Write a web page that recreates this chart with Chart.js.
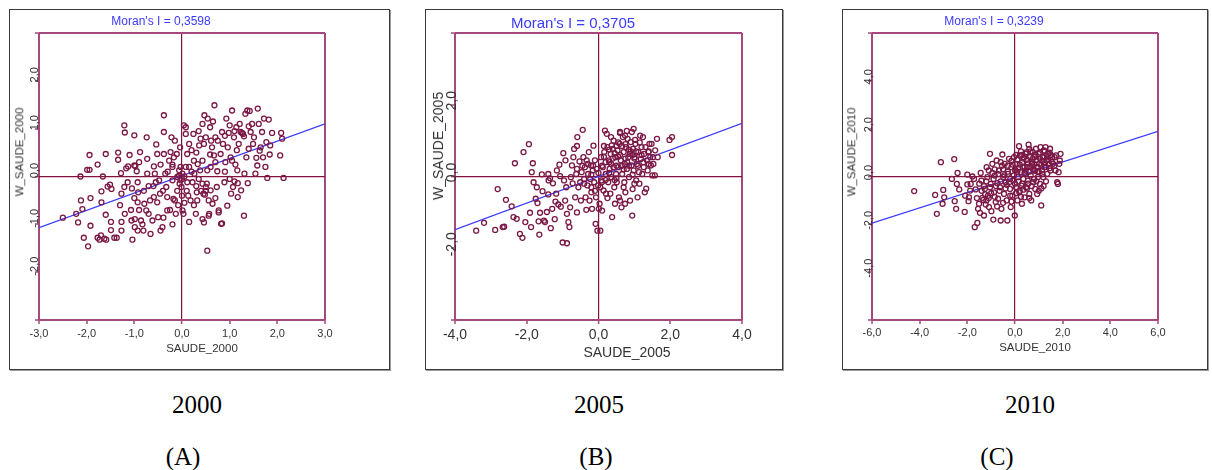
<!DOCTYPE html>
<html>
<head>
<meta charset="utf-8">
<script src="https://cdn.jsdelivr.net/npm/chart.js@4.4.0/dist/chart.umd.min.js"></script>
<style>
  body { margin: 0; background: #fff; width: 1212px; height: 470px; position: relative; overflow: hidden; font-family: "Liberation Sans", Arial, sans-serif; }
  .box { position: absolute; border: 1px solid #3a3a3a; box-shadow: 1px 1px 0 #9a9a9a; box-sizing: border-box; background: #fff; }
  canvas { position: absolute; }
  .lbl { position: absolute; white-space: nowrap; color: #333; transform: translate(-50%, -50%); line-height: 1; }
  .moran { color: #3a3aff; }
  .ylab { transform: translate(-50%, -50%) rotate(-90deg); }
  .cap { position: absolute; white-space: nowrap; font-family: "Liberation Serif", "Times New Roman", serif; font-size: 25px; color: #000; transform: translate(-50%, -50%); line-height: 1; }
</style>
</head>
<body>

<div class="box" style="left:9px;top:9px;width:381px;height:361px"></div>
<div class="box" style="left:425px;top:9px;width:358px;height:361px"></div>
<div class="box" style="left:842px;top:9px;width:366px;height:361px"></div>

<canvas id="chartA" width="381" height="361" style="left:9px;top:9px"></canvas>
<canvas id="chartB" width="358" height="361" style="left:425px;top:9px"></canvas>
<canvas id="chartC" width="366" height="361" style="left:842px;top:9px"></canvas>

<div class="lbl moran" style="left:161px;top:21px;font-size:12px">Moran's I = 0,3598</div>
<div class="lbl moran" style="left:573px;top:22px;font-size:15px">Moran's I = 0,3705</div>
<div class="lbl moran" style="left:994px;top:21px;font-size:12px">Moran's I = 0,3239</div>

<div class="lbl" style="left:202px;top:349px;font-size:11.5px">SAUDE_2000</div>
<div class="lbl" style="left:627px;top:352px;font-size:14px">SAUDE_2005</div>
<div class="lbl" style="left:1035px;top:348px;font-size:11.5px">SAUDE_2010</div>

<div class="lbl ylab" style="left:20px;top:152px;font-size:11.5px">W_SAUDE_2000</div>
<div class="lbl ylab" style="left:438px;top:146px;font-size:14px">W_SAUDE_2005</div>
<div class="lbl ylab" style="left:852px;top:152px;font-size:11.5px">W_SAUDE_2010</div>

<div class="cap" style="left:197px;top:404px">2000</div>
<div class="cap" style="left:599px;top:404px">2005</div>
<div class="cap" style="left:1030px;top:404px">2010</div>
<div class="cap" style="left:183px;top:456px">(A)</div>
<div class="cap" style="left:596px;top:456px">(B)</div>
<div class="cap" style="left:997px;top:456px">(C)</div>

<script>
// pontos [SAUDE, W_SAUDE]
var ptsA = [[-2.50,-0.86],[-2.22,-0.78],[-2.18,-0.96],[-2.12,-0.50],[-2.09,-0.68],[-2.13,0.00],[-2.06,-1.28],[-1.97,-1.46],[-1.92,-1.03],[-1.92,-0.45],[-1.94,0.45],[-1.99,0.14],[-1.94,0.14],[-1.77,0.25],[-1.66,0.00],[-1.69,-0.31],[-1.60,0.47],[-1.69,-0.54],[-1.77,-1.28],[-1.70,-1.23],[-1.63,-1.30],[-1.59,-1.32],[-1.73,-1.32],[-1.56,-0.21],[-1.51,-0.17],[-1.48,-0.26],[-1.49,-0.95],[-1.49,-1.12],[-1.42,-1.28],[-1.37,-1.28],[-1.34,0.50],[-1.34,0.35],[-1.28,0.07],[-1.27,-0.36],[-1.27,-0.95],[-1.27,-1.13],[-1.21,1.07],[-1.20,0.92],[-1.21,-0.22],[-1.20,-0.78],[-1.17,0.17],[-1.13,0.21],[-1.14,-0.12],[-1.07,-0.70],[-1.06,-0.92],[-1.04,-1.32],[-1.00,0.86],[-1.00,0.23],[-0.98,0.22],[-0.95,0.11],[-0.93,-0.12],[-0.92,-0.33],[-0.93,-0.54],[-0.99,-0.89],[-0.99,-1.06],[-0.93,-1.13],[-0.88,0.51],[-0.86,-0.92],[-0.83,-1.00],[-0.81,-1.13],[-0.79,-0.57],[-0.75,-0.71],[-0.74,0.82],[-0.73,0.37],[-0.73,0.06],[-0.70,-0.78],[-0.67,-0.50],[-0.66,-1.20],[-0.62,-0.92],[-0.59,0.21],[-0.59,-0.43],[-0.57,0.06],[-0.55,-0.12],[-0.54,0.67],[-0.52,0.47],[-0.52,-0.54],[-0.48,-0.08],[-0.46,-0.36],[-0.45,-1.13],[-0.41,-1.06],[-0.39,-0.86],[-0.38,1.28],[-0.38,0.93],[-0.38,0.47],[-0.35,0.06],[-0.33,-0.22],[-0.31,-0.43],[-0.31,-0.71],[-0.27,0.33],[-0.24,0.51],[-0.22,0.82],[-0.20,0.20],[-0.20,-0.08],[-0.18,-0.47],[-0.17,0.40],[-0.15,-0.50],[-0.13,-0.78],[-0.11,0.47],[-0.10,-0.01],[-0.06,0.02],[-0.04,0.61],[-0.03,0.20],[-0.03,-0.08],[-0.01,-0.22],[0.01,-0.71],[0.03,-0.78],[0.04,1.07],[0.08,0.89],[0.08,1.03],[0.11,0.47],[0.11,-0.12],[0.13,-0.40],[0.15,0.68],[0.15,0.20],[0.18,-0.50],[0.22,-0.12],[0.24,0.89],[0.25,0.33],[0.26,0.06],[0.29,-0.78],[0.31,-0.33],[0.32,-0.50],[0.33,0.26],[0.36,0.65],[0.38,0.13],[0.39,0.79],[0.43,1.10],[0.43,0.33],[0.43,-0.15],[0.45,-0.36],[0.46,0.68],[0.47,1.28],[0.50,0.82],[0.50,-0.22],[0.52,-0.15],[0.53,0.13],[0.54,1.21],[0.56,-0.50],[0.57,-0.78],[0.59,1.03],[0.59,0.46],[0.60,-0.29],[0.61,0.75],[0.63,0.61],[0.64,-0.57],[0.67,0.44],[0.68,1.49],[0.70,0.82],[0.73,-0.22],[0.74,0.11],[0.75,0.75],[0.77,-0.71],[0.81,0.47],[0.82,-0.99],[0.84,0.93],[0.86,0.68],[0.89,-0.12],[0.91,0.30],[0.93,1.21],[0.95,-0.61],[0.96,0.61],[0.98,0.91],[1.00,1.07],[1.02,0.40],[1.03,-0.36],[1.05,1.38],[1.05,0.33],[1.07,-0.22],[1.09,0.82],[1.10,0.95],[1.12,0.25],[1.14,1.03],[1.16,0.13],[1.17,-0.43],[1.17,-0.14],[1.19,0.68],[1.21,1.10],[1.23,0.93],[1.24,-0.29],[1.26,0.91],[1.28,0.89],[1.30,0.84],[1.30,-0.82],[1.31,0.06],[1.33,1.31],[1.35,0.40],[1.37,1.38],[1.38,-0.14],[1.40,0.58],[1.42,1.37],[1.44,0.93],[1.47,1.10],[1.49,0.68],[1.51,0.82],[1.54,0.06],[1.56,0.39],[1.58,0.23],[1.59,1.42],[1.61,1.10],[1.63,0.54],[1.65,0.61],[1.68,0.93],[1.70,0.40],[1.72,1.21],[1.75,0.20],[1.77,0.72],[1.79,-0.03],[1.82,1.19],[1.84,0.46],[1.85,0.65],[1.89,0.91],[2.06,0.44],[2.08,0.91],[2.10,0.79],[2.13,-0.03],[0.53,-1.55],[0.43,-0.89],[0.46,-0.96],[0.08,0.20],[0.01,0.06],[-0.06,0.13],[0.00,-0.05],[0.05,0.00],[-0.05,-0.15],[0.10,-0.30],[-0.10,-0.30],[0.00,-0.40],[0.05,-0.55],[-0.08,-0.60],[0.20,0.10],[-0.20,0.25],[0.30,0.50],[-0.30,0.10],[0.35,-0.05],[-0.40,-0.30],[0.40,-0.30],[0.60,0.20],[-0.60,-0.20],[0.70,0.30],[-0.80,-0.30],[0.90,0.10],[-0.90,0.30],[1.10,-0.10],[-1.00,-0.45],[0.25,-0.60],[-0.25,-0.70],[0.56,-0.82],[0.84,-0.98],[0.77,-0.75],[0.48,-0.38],[0.50,-0.30],[0.20,0.55],[0.35,0.95],[0.65,1.15],[0.90,0.85],[1.15,0.55],[1.40,1.05],[-0.15,0.75],[-0.45,0.25],[-0.70,-0.20],[-1.05,-0.25],[-1.30,-0.60],[-1.60,-0.80],[-0.50,-0.85],[0.30,-0.20],[0.70,-0.45],[1.00,-0.05],[-0.90,-0.70],[-1.10,0.45],[0.15,-0.95],[-0.20,-1.00]];

var ptsB = [[-3.41,-1.51],[-3.19,-1.29],[-2.88,-1.49],[-2.67,-1.41],[-2.63,-1.40],[-2.81,-0.35],[-2.58,-0.65],[-2.42,-0.83],[-2.37,-1.13],[-2.33,0.37],[-2.28,-1.18],[-2.19,-1.60],[-2.12,-1.71],[-2.09,0.68],[-2.04,-1.27],[-1.94,0.90],[-1.91,-1.01],[-1.88,-1.41],[-1.86,0.12],[-1.83,0.37],[-1.81,-0.16],[-1.75,-0.62],[-1.72,-0.30],[-1.70,-0.74],[-1.67,-1.25],[-1.65,-1.62],[-1.63,-1.01],[-1.58,0.06],[-1.56,-0.41],[-1.52,-1.23],[-1.49,-1.27],[-1.44,-0.99],[-1.40,0.07],[-1.39,-0.11],[-1.35,-0.05],[-1.33,-1.44],[-1.29,-0.90],[-1.27,-0.19],[-1.22,-1.19],[-1.18,-0.48],[-1.16,0.17],[-1.12,-0.78],[-1.09,0.33],[-1.07,0.01],[-1.05,-0.84],[-1.00,-1.84],[-0.98,0.65],[-0.96,-0.11],[-0.93,-0.67],[-0.92,0.45],[-0.88,-1.86],[-0.88,-1.04],[-0.84,-1.27],[-0.81,-1.41],[-0.79,-0.86],[-0.77,-0.02],[-0.74,0.31],[-0.72,-0.19],[-0.70,0.54],[-0.68,0.77],[-0.65,-0.58],[-0.62,0.07],[-0.60,0.21],[-0.59,1.10],[-0.56,-0.30],[-0.53,0.42],[-0.51,-0.16],[-0.49,-0.67],[-0.47,0.12],[-0.44,1.30],[-0.42,0.54],[-0.40,-0.07],[-0.38,0.26],[-0.36,-0.58],[-0.34,-0.93],[-0.33,0.45],[-0.31,-0.25],[-0.29,0.07],[-0.27,0.68],[-0.25,-0.67],[-0.23,-0.07],[-0.21,0.31],[-0.20,-0.44],[-0.18,-0.90],[-0.16,0.17],[-0.14,0.86],[-0.12,-0.16],[-0.10,0.45],[-0.08,-1.32],[-0.07,-0.58],[-0.05,0.21],[-0.03,-1.51],[-0.01,-0.25],[0.01,-0.90],[0.03,-0.76],[0.05,-1.51],[0.07,0.54],[0.08,-0.11],[0.10,-0.95],[0.12,0.26],[0.14,-0.39],[0.16,0.68],[0.18,1.28],[0.20,0.07],[0.21,-0.48],[0.23,1.19],[0.25,0.82],[0.27,-0.16],[0.29,0.45],[0.31,0.21],[0.33,-0.48],[0.34,0.63],[0.36,-0.02],[0.38,-1.13],[0.40,0.77],[0.42,0.26],[0.44,-0.30],[0.46,-0.76],[0.47,0.54],[0.49,0.07],[0.51,-0.16],[0.53,0.73],[0.55,0.26],[0.57,-0.58],[0.59,0.91],[0.60,1.24],[0.62,0.45],[0.64,-0.86],[0.66,0.07],[0.68,1.10],[0.70,0.68],[0.72,-0.16],[0.73,0.35],[0.75,-0.44],[0.77,0.82],[0.79,0.21],[0.81,1.05],[0.83,0.54],[0.85,-0.02],[0.87,0.63],[0.88,-0.67],[0.90,0.96],[0.92,0.31],[0.94,-1.09],[0.96,0.77],[0.98,0.17],[1.00,-0.20],[1.01,0.54],[1.03,0.91],[1.05,-0.11],[1.07,0.35],[1.09,-0.58],[1.11,0.68],[1.13,0.12],[1.14,-0.20],[1.16,1.14],[1.18,0.49],[1.20,0.82],[1.22,0.07],[1.24,1.10],[1.26,0.26],[1.27,0.63],[1.29,-0.44],[1.31,0.82],[1.33,-0.34],[1.35,0.45],[1.37,0.17],[1.39,0.68],[1.40,0.35],[1.42,0.91],[1.44,0.54],[1.46,0.31],[1.48,0.91],[1.50,0.03],[1.52,0.54],[1.53,0.35],[1.57,0.03],[1.58,0.73],[1.63,1.05],[1.65,0.54],[1.98,1.02],[2.05,1.10],[2.05,0.60],[0.98,1.33],[0.79,1.27],[0.60,1.21],[0.74,1.14],[1.02,1.02],[0.93,1.24],[0.42,1.00],[0.37,0.87],[0.74,-0.76],[0.60,-0.67],[0.10,0.30],[0.20,0.40],[0.30,0.10],[0.40,0.50],[0.50,0.30],[0.60,0.60],[0.70,0.20],[0.80,0.40],[0.90,0.70],[1.00,0.50],[1.10,0.30],[0.20,-0.10],[0.50,-0.05],[0.65,0.85],[0.85,0.75],[0.45,0.65],[0.15,0.55],[-0.20,0.05],[-0.30,0.35],[0.00,0.10],[1.20,0.60],[0.95,0.05],[0.55,0.95],[0.35,0.35],[0.75,0.50],[-0.10,-0.40],[0.05,-0.30],[0.25,-0.60],[-0.40,-0.20],[0.30,0.75],[0.15,0.85],[0.35,1.10],[0.50,0.85],[0.65,0.30],[0.85,0.30],[1.05,0.70],[1.25,0.40],[1.40,0.70],[0.45,-0.10],[0.70,-0.30],[0.95,-0.35],[-0.15,0.30],[-0.45,0.30],[-0.60,0.85],[-0.20,-0.30],[0.10,-0.15],[0.30,0.40],[0.55,0.55],[0.75,0.90],[0.95,0.60],[1.15,0.95],[-0.90,-0.30],[-1.20,-0.70],[-0.60,-1.00],[-1.40,-0.50]];

var ptsC = [[-4.23,-0.61],[-3.35,-0.77],[-3.28,-1.56],[-3.11,0.60],[-3.04,-1.14],[-3.01,-0.56],[-2.97,-0.87],[-2.65,-0.10],[-2.55,0.73],[-2.53,-1.03],[-2.47,-1.35],[-2.44,-0.31],[-2.41,0.15],[-2.34,-0.54],[-2.11,-1.48],[-2.09,-0.80],[-2.00,0.08],[-2.00,-0.33],[-1.95,-1.03],[-1.93,-0.87],[-1.88,-0.59],[-1.86,-0.31],[-1.79,0.00],[-1.72,-0.10],[-1.69,-2.12],[-1.65,-0.54],[-1.58,-1.94],[-1.55,-1.35],[-1.51,-1.14],[-1.47,-1.52],[-1.44,0.15],[-1.41,-0.17],[-1.37,-0.89],[-1.33,-0.98],[-1.30,-1.63],[-1.27,-0.52],[-1.23,-1.17],[-1.19,0.39],[-1.16,-0.03],[-1.13,-0.80],[-1.09,-1.28],[-1.05,0.95],[-1.02,-0.31],[-0.99,-1.45],[-0.95,0.53],[-0.91,-1.80],[-0.88,-0.66],[-0.85,0.04],[-0.81,-1.07],[-0.77,0.67],[-0.74,-0.28],[-0.71,-0.93],[-0.67,0.25],[-0.63,-0.45],[-0.60,-1.84],[-0.57,-1.35],[-0.53,0.92],[-0.49,-0.03],[-0.46,-0.73],[-0.43,0.53],[-0.39,-0.24],[-0.35,-1.00],[-0.32,-1.84],[-0.29,0.11],[-0.25,0.74],[-0.21,-0.52],[-0.18,-1.28],[-0.15,0.39],[-0.11,-0.80],[-0.07,-0.17],[-0.04,0.81],[-0.01,-1.63],[0.01,0.25],[0.04,-0.45],[0.07,0.53],[0.10,-1.00],[0.13,-0.03],[0.17,1.27],[0.18,-0.66],[0.21,0.88],[0.24,0.18],[0.27,-0.38],[0.29,-1.14],[0.32,0.39],[0.35,-0.10],[0.38,0.81],[0.40,-0.87],[0.43,0.11],[0.46,-0.45],[0.49,1.02],[0.52,0.39],[0.54,-0.17],[0.57,1.33],[0.60,-0.73],[0.63,0.81],[0.66,0.04],[0.68,-1.00],[0.71,0.53],[0.74,1.02],[0.77,-0.24],[0.80,0.25],[0.82,0.81],[0.85,-0.52],[0.88,1.16],[0.91,0.39],[0.93,-0.73],[0.96,-0.03],[0.99,0.95],[1.02,0.53],[1.05,-0.31],[1.07,1.23],[1.10,-1.21],[1.13,0.25],[1.16,0.81],[1.19,-0.03],[1.21,1.09],[1.24,0.39],[1.28,1.23],[1.33,0.67],[1.35,0.11],[1.38,0.95],[1.42,0.53],[1.47,1.16],[1.49,0.25],[1.56,0.81],[1.60,0.53],[1.66,0.81],[1.72,0.88],[1.77,-0.24],[1.80,-0.31],[1.83,0.18],[1.86,0.53],[1.88,0.67],[1.91,0.95],[-0.50,0.30],[-0.30,0.20],[-0.20,-0.10],[0.10,0.20],[0.20,0.50],[0.30,0.60],[0.40,0.40],[0.50,0.70],[0.60,0.20],[0.70,0.60],[0.80,0.50],[0.90,0.70],[1.00,0.20],[1.10,0.50],[1.20,0.80],[1.30,0.40],[1.40,0.70],[1.50,0.90],[0.30,-0.30],[0.50,-0.50],[0.70,-0.40],[0.90,-0.20],[1.10,-0.50],[1.30,-0.20],[-0.60,-0.20],[-0.80,-0.40],[-1.00,-0.70],[-1.20,-0.20],[-0.40,-0.50],[-0.20,-0.80],[0.00,-0.30],[0.10,0.70],[-0.10,0.50],[-0.70,0.10],[-0.90,-0.10],[0.45,0.95],[0.65,1.05],[0.85,0.90],[1.05,1.00],[1.25,1.05],[-1.30,-0.40],[-1.10,-0.90],[-0.50,-1.10],[0.20,-0.60],[0.60,-0.90],[0.40,0.15],[-0.05,0.05],[0.15,-0.20],[0.75,0.30],[0.95,0.40],[1.15,0.10],[1.45,0.35],[1.65,0.45],[-0.35,-0.35],[-0.60,0.60],[-0.85,0.30],[-1.40,-0.60],[-1.20,-1.00],[0.00,0.30],[0.30,0.90],[-0.30,0.45],[-0.15,0.65],[0.05,0.90],[0.25,1.05],[0.55,0.55],[0.75,0.75],[0.95,0.20],[1.15,0.65],[1.35,0.80],[1.55,0.60],[1.70,0.25],[0.35,-0.55],[0.55,-0.30],[0.80,-0.10],[1.00,-0.60],[1.20,-0.40],[-0.45,0.05],[-0.65,-0.60],[-0.85,-0.85],[-1.05,-0.45],[-0.25,-0.25],[0.05,-0.70],[0.25,-0.85],[-0.15,-1.05],[-0.75,-1.25],[-1.25,-0.75],[-1.50,-0.30],[-1.60,-0.90],[0.15,0.35],[0.45,0.25],[0.65,0.40],[0.85,0.25],[1.05,0.75],[1.25,0.55],[1.45,1.00],[-0.55,0.45],[-0.95,0.15],[-1.10,0.25],[0.35,0.75],[0.60,1.15]];

// extremos da reta de regressão (x, y)
var retaXA = [-3, 3],  retaYA = [-1.07, 1.10];
var retaXB = [-4, 4],  retaYB = [-1.48, 1.48];
var retaXC = [-6, 6],  retaYC = [-1.95, 1.89];

var corMoldura = '#a4487d';
var corZero = '#82123f';
var corPonto = '#7b1846';

function fmt(v) {
    return Number(v).toFixed(1).replace('.', ',');
}

function graficoMoran(id, pts, retaX, retaY, c) {
    // rótulos do eixo y girados, como no GeoDa
    var rotulosY = {
        id: 'rotulosY',
        afterDraw: function (chart) {
            var s = chart.scales.y;
            var ctx = chart.ctx;
            ctx.save();
            ctx.fillStyle = '#333';
            ctx.font = c.fs + 'px "Liberation Sans", Arial, sans-serif';
            ctx.textAlign = 'center';
            ctx.textBaseline = 'alphabetic';
            s.ticks.forEach(function (t) {
                if (t.value === s.min || t.value === s.max) return;
                var py = s.getPixelForValue(t.value);
                ctx.save();
                ctx.translate(chart.chartArea.left + c.ydx, py + c.ydy);
                ctx.rotate(-Math.PI / 2);
                ctx.fillText(fmt(t.value), 0, 0);
                ctx.restore();
            });
            ctx.restore();
        }
    };

    var grade = {
        color: function (ctx) {
            var v = ctx.tick.value, s = ctx.scale;
            if (v === 0) return corZero;
            if (v === s.min || v === s.max) return corMoldura;
            return 'rgba(0,0,0,0)';
        },
        lineWidth: function (ctx) {
            return ctx.tick.value === 0 ? 1.2 : 2;
        },
        tickColor: corMoldura,
        tickWidth: 1.5,
        tickLength: 4
    };

    new Chart(document.getElementById(id), {
        type: 'scatter',
        data: {
            datasets: [{
                data: pts.map(function (p) { return { x: p[0], y: p[1] }; }),
                pointRadius: c.r,
                pointHoverRadius: c.r,
                pointBorderWidth: 1.3,
                pointBorderColor: corPonto,
                pointBackgroundColor: 'rgba(255,255,255,0)'
            }, {
                type: 'line',
                data: retaX.map(function (x, i) { return { x: x, y: retaY[i] }; }),
                borderColor: '#3a3aff',
                borderWidth: 1.3,
                pointRadius: 0,
                fill: false
            }]
        },
        options: {
            responsive: false,
            animation: false,
            events: [],
            layout: { padding: { left: c.left - 4, top: c.top, right: c.right, bottom: c.bottom - 30 } },
            plugins: { legend: { display: false }, tooltip: { enabled: false } },
            scales: {
                x: {
                    min: -c.xmax, max: c.xmax,
                    ticks: {
                        stepSize: c.xstep, autoSkip: false, maxRotation: 0, padding: c.tpad,
                        color: '#333', font: { family: 'Liberation Sans', size: c.fs },
                        callback: fmt
                    },
                    grid: grade,
                    border: { display: false },
                    afterFit: function (s) { s.height = 30; }
                },
                y: {
                    min: -c.ymax, max: c.ymax,
                    ticks: { stepSize: c.ystep, display: false },
                    grid: grade,
                    border: { display: false },
                    afterFit: function (s) { s.width = 4; }
                }
            }
        },
        plugins: [rotulosY]
    });
}

graficoMoran('chartA', ptsA, retaXA, retaYA, { left: 30, top: 24, right: 65, bottom: 50, xmax: 3, xstep: 1, ymax: 3, ystep: 1, fs: 11, tpad: 3, r: 2.5, ydx: -1, ydy: -6 });
graficoMoran('chartB', ptsB, retaXB, retaYB, { left: 30, top: 24, right: 41, bottom: 50, xmax: 4, xstep: 2, ymax: 4, ystep: 2, fs: 14, tpad: 3, r: 2.5, ydx: 1, ydy: -4 });
graficoMoran('chartC', ptsC, retaXC, retaYC, { left: 30, top: 24, right: 50, bottom: 50, xmax: 6, xstep: 2, ymax: 6, ystep: 2, fs: 11, tpad: 2, r: 2.5, ydx: 0, ydy: -4 });
</script>
</body>
</html>
